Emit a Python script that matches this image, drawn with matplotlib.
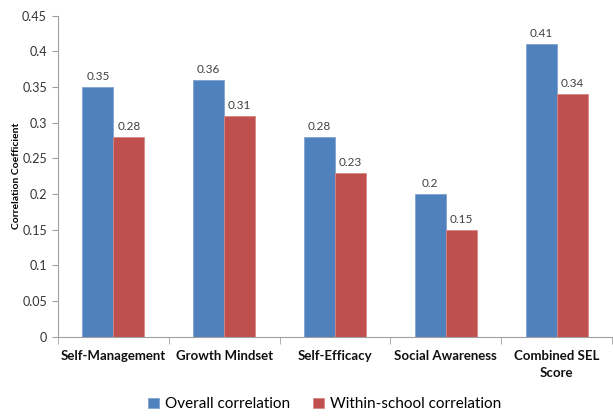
import numpy as np
import matplotlib.pyplot as plt

plt.rcParams['font.family'] = ['Lato', 'DejaVu Sans']

categories = ['Self-Management', 'Growth Mindset', 'Self-Efficacy',
              'Social Awareness', 'Combined SEL\nScore']
overall = [0.35, 0.36, 0.28, 0.20, 0.41]
within = [0.28, 0.31, 0.23, 0.15, 0.34]
yticks = [0, 0.05, 0.1, 0.15, 0.2, 0.25, 0.3, 0.35, 0.4, 0.45]
ytick_labels = ['0', '0.05', '0.1', '0.15', '0.2', '0.25', '0.3', '0.35', '0.4', '0.45']

blue = '#4F81BD'
red = '#C0504D'

fig = plt.figure(figsize=(6.13, 4.17), dpi=100)
ax = fig.add_axes([0.0946, 0.193, 0.9038, 0.769])

x = np.arange(len(categories))
w = 0.28
b1 = ax.bar(x - w / 2, overall, w, color=blue, edgecolor='#7FA3D1', linewidth=0.6,
            label='Overall correlation')
b2 = ax.bar(x + w / 2, within, w, color=red, edgecolor='#D58784', linewidth=0.6,
            label='Within-school correlation')

for bars, vals in ((b1, overall), (b2, within)):
    for r, v in zip(bars, vals):
        ax.text(r.get_x() + r.get_width() / 2, v + 0.007, f'{v:g}',
                ha='center', va='bottom', fontsize=8.5, color='#404040')

ax.set_xlim(-0.5, len(categories) - 0.5)
ax.set_ylim(0, 0.45)
ax.set_yticks(yticks)
ax.set_yticklabels(ytick_labels, fontsize=9, color='#333333')
ax.set_xticks(x)
ax.set_xticklabels(categories, fontsize=9.5, fontweight='bold', color='#111111',
                   linespacing=1.45)
ax.tick_params(axis='x', length=0, pad=10)
ax.set_xticks(np.arange(-0.5, len(categories)), minor=True)
ax.tick_params(axis='x', which='minor', length=5, color='#A0A0A0')
ax.tick_params(axis='y', length=4, color='#A0A0A0', pad=4)

for s in ['top', 'right']:
    ax.spines[s].set_visible(False)
for s in ['left', 'bottom']:
    ax.spines[s].set_color('#A0A0A0')

ax.set_ylabel('Correlation Coefficient', fontsize=7.5, fontweight='bold', labelpad=1)

fig.legend(handles=[b1, b2], loc='center', bbox_to_anchor=(0.53, 0.03), ncol=2,
           frameon=False, fontsize=11, handlelength=0.7, handleheight=0.7,
           handletextpad=0.4, columnspacing=1.5)

fig.savefig('out.png', dpi=100)
